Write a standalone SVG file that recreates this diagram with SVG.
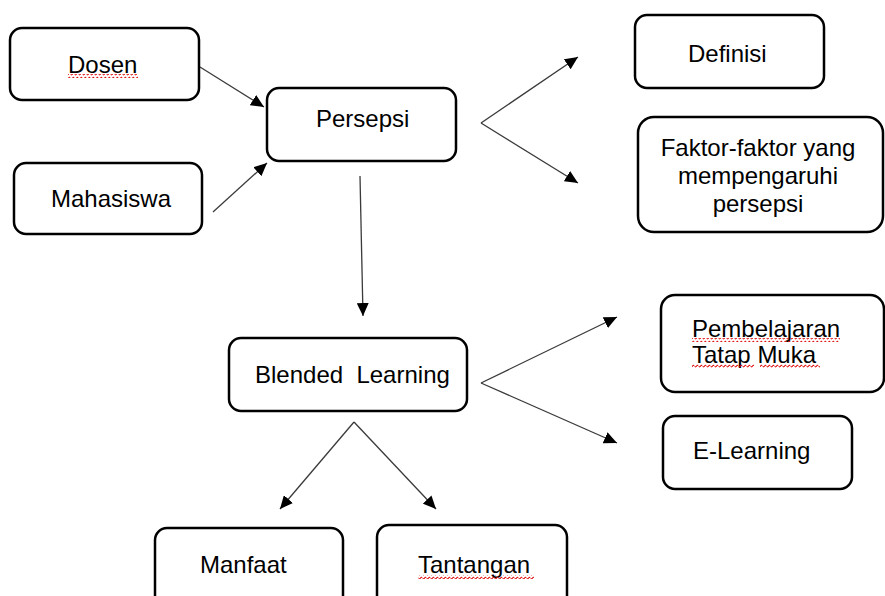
<svg xmlns="http://www.w3.org/2000/svg" width="885" height="596" viewBox="0 0 885 596">
<style>
.box{fill:#fff;stroke:#000;stroke-width:2.5}
.t{font-family:"Liberation Sans",Arial,sans-serif;font-size:24px;fill:#000}
.c{stroke:#3a3a3a;stroke-width:1.3;fill:none;marker-end:url(#ah)}
.w{fill:url(#wave)}
</style>
<defs>
<marker id="ah" markerWidth="14" markerHeight="12" refX="13" refY="6" orient="auto" markerUnits="userSpaceOnUse">
<path d="M0,0 L13,6 L0,12 z" fill="#000"/>
</marker>
<pattern id="wave" width="4" height="4" patternUnits="userSpaceOnUse">
<path d="M0,3 Q1,0 2,1.5 T4,3" stroke="#e00000" stroke-width="1" fill="none"/>
</pattern>
</defs>
<rect width="885" height="596" fill="#fff"/>
<g id="connectors">
<path class="c" d="M200,67 L264,107"/>
<path class="c" d="M213,212 L267,163"/>
<path class="c" d="M360,176 L363,316"/>
<path class="c" d="M481,123 L578,57"/>
<path class="c" d="M481,123 L578,183"/>
<path class="c" d="M481,383 L617,317"/>
<path class="c" d="M481,383 L617,443"/>
<path class="c" d="M354,422 L280,509"/>
<path class="c" d="M354,422 L436,509"/>
</g>
<g id="dosen">
<rect class="box" x="10" y="28" width="189" height="72" rx="12"/>
<text class="t" x="68" y="73">Dosen</text>
<rect class="w" x="68" y="74" width="70" height="4"/>
</g>
<g id="mahasiswa">
<rect class="box" x="14" y="163" width="188" height="71" rx="12"/>
<text class="t" x="51" y="207">Mahasiswa</text>
</g>
<g id="persepsi">
<rect class="box" x="267" y="88" width="189" height="73" rx="12"/>
<text class="t" x="316" y="127">Persepsi</text>
</g>
<g id="definisi">
<rect class="box" x="635" y="15" width="189" height="73" rx="12"/>
<text class="t" x="688" y="62">Definisi</text>
</g>
<g id="faktor">
<rect class="box" x="638" y="117" width="245" height="115" rx="16"/>
<text class="t" x="758" y="156" text-anchor="middle">Faktor-faktor yang</text>
<text class="t" x="758" y="184" text-anchor="middle">mempengaruhi</text>
<text class="t" x="758" y="212" text-anchor="middle">persepsi</text>
</g>
<g id="blended">
<rect class="box" x="229" y="338" width="238" height="73" rx="12"/>
<text class="t" x="255" y="383" xml:space="preserve">Blended  Learning</text>
</g>
<g id="tatapmuka">
<rect class="box" x="661" y="295" width="223" height="97" rx="14"/>
<text class="t" x="692" y="337">Pembelajaran</text>
<text class="t" x="692" y="363">Tatap Muka</text>
<rect class="w" x="692" y="338" width="148" height="4"/>
<rect class="w" x="692" y="364" width="62" height="4"/>
<rect class="w" x="760" y="364" width="60" height="4"/>
</g>
<g id="elearning">
<rect class="box" x="663" y="416" width="189" height="73" rx="12"/>
<text class="t" x="693" y="459">E-Learning</text>
</g>
<g id="manfaat">
<rect class="box" x="155" y="528" width="188" height="90" rx="12"/>
<text class="t" x="200" y="573">Manfaat</text>
</g>
<g id="tantangan">
<rect class="box" x="377" y="525" width="190" height="90" rx="12"/>
<text class="t" x="418" y="573">Tantangan</text>
<rect class="w" x="418" y="575" width="116" height="4"/>
</g>
</svg>
